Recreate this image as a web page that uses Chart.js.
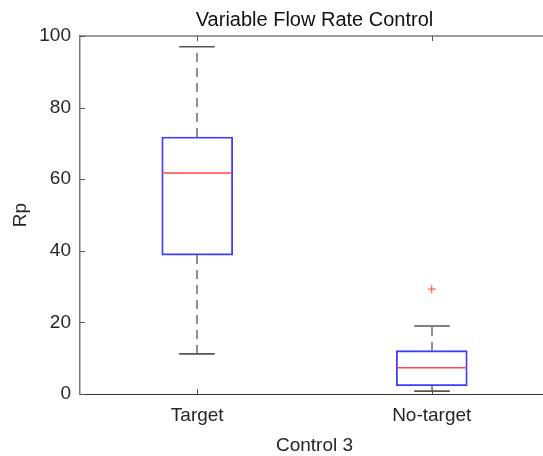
<!DOCTYPE html>
<html lang="en">
<head>
    <meta charset="UTF-8">
    <title>Variable Flow Rate Control</title>
    <script src="https://cdn.jsdelivr.net/npm/chart.js"></script>
    <style>
        html, body { margin: 0; padding: 0; background: #fff; overflow: hidden; }
        #wrap { position: absolute; left: 0; top: 0; width: 600px; height: 456px; }
    </style>
</head>
<body>

<div id="wrap">
    <canvas id="boxChart" width="600" height="456"></canvas>
</div>

<script>
  // box plot values
  var categories = ['Target', 'No-target'];
  var whiskerLow = [11.2, 0.8];
  var q1 = [38.8, 2.3];
  var medians = [61.7, 7.3];
  var q3 = [71.8, 12.1];
  var whiskerHigh = [97.0, 19.0];
  var outlierCat = ['No-target'];
  var outlierVal = [29.3];
  var yTicks = [0, 20, 40, 60, 80, 100];
  var chartTitle = 'Variable Flow Rate Control';

  var font = "'Liberation Sans', Arial, Helvetica, sans-serif";
  var axisCol = '#262626';

  // whiskers, caps, inward MATLAB style ticks and the title centred on the axes
  var boxExtras = {
    id: 'boxExtras',
    afterDatasetsDraw: function(chart) {
      var ctx = chart.ctx;
      var ys = chart.scales.y;
      var xs = chart.scales.x;
      var area = chart.chartArea;
      var boxes = chart.getDatasetMeta(0).data;
      ctx.save();
      boxes.forEach(function(bar, i) {
        var cx = Math.round(bar.x);
        var capHalf = bar.width / 4;
        ctx.strokeStyle = '#555';
        ctx.lineWidth = 1.3;
        ctx.setLineDash([9, 6]);
        ctx.beginPath();
        ctx.moveTo(cx, ys.getPixelForValue(q3[i]));
        ctx.lineTo(cx, ys.getPixelForValue(whiskerHigh[i]));
        ctx.moveTo(cx, ys.getPixelForValue(q1[i]));
        ctx.lineTo(cx, ys.getPixelForValue(whiskerLow[i]));
        ctx.stroke();
        ctx.setLineDash([]);
        ctx.lineWidth = 1.6;
        ctx.strokeStyle = '#555';
        ctx.beginPath();
        [whiskerHigh[i], whiskerLow[i]].forEach(function(v) {
          var y = ys.getPixelForValue(v);
          ctx.moveTo(cx - capHalf, y);
          ctx.lineTo(cx + capHalf, y);
        });
        ctx.stroke();
      });

      // top border
      ctx.strokeStyle = '#7a7a7a';
      ctx.lineWidth = 1.5;
      ctx.beginPath();
      ctx.moveTo(area.left, area.top);
      ctx.lineTo(area.right, area.top);
      ctx.stroke();

      // inward ticks
      ctx.strokeStyle = '#555';
      ctx.lineWidth = 1;
      ctx.beginPath();
      yTicks.forEach(function(v) {
        var y = Math.round(ys.getPixelForValue(v)) + 0.5;
        ctx.moveTo(area.left, y);
        ctx.lineTo(area.left + 5, y);
      });
      categories.forEach(function(c, i) {
        var x = Math.round(xs.getPixelForValue(i + 1)) + 0.5;
        ctx.moveTo(x, area.bottom);
        ctx.lineTo(x, area.bottom - 5);
        ctx.moveTo(x, area.top);
        ctx.lineTo(x, area.top + 5);
      });
      ctx.stroke();

      // title (MATLAB centres it over the axes, not the figure)
      ctx.fillStyle = '#111';
      ctx.font = '20px ' + font;
      ctx.textAlign = 'center';
      ctx.textBaseline = 'alphabetic';
      ctx.fillText(chartTitle, (area.left + area.right) / 2, 26);
      ctx.restore();
    }
  };

  var ctx = document.getElementById('boxChart').getContext('2d');
  var boxChart = new Chart(ctx, {
    type: 'bar',
    data: {
      datasets: [{
        label: 'Box',
        data: q1.map(function(v, i) { return { x: i + 1, y: [v, q3[i]] }; }),
        backgroundColor: 'rgba(255,255,255,0)',
        borderColor: 'rgb(60,60,255)',
        borderWidth: 1.2,
        borderSkipped: false,
        barThickness: 71,
        order: 2
      }, {
        type: 'scatter',
        label: 'Median',
        data: medians.map(function(v, i) { return { x: i + 1, y: v }; }),
        pointStyle: 'line',
        pointRadius: 35,
        borderColor: 'rgb(255,70,70)',
        borderWidth: 1.5,
        order: 1
      }, {
        type: 'scatter',
        label: 'Outliers',
        data: outlierVal.map(function(v, i) {
          return { x: categories.indexOf(outlierCat[i]) + 1, y: v };
        }),
        pointStyle: 'cross',
        pointRadius: 4,
        borderColor: 'rgb(255,60,60)',
        borderWidth: 1,
        order: 0
      }]
    },
    options: {
      responsive: false,
      animation: false,
      layout: { autoPadding: false, padding: { top: 36, right: 51, bottom: 0, left: 0 } },
      plugins: {
        legend: { display: false },
        tooltip: { enabled: false }
      },
      scales: {
        x: {
          type: 'linear',
          offset: false,
          bounds: 'data',
          min: 0.5,
          max: 2.5,
          afterBuildTicks: function(scale) {
            scale.ticks = categories.map(function(c, i) { return { value: i + 1 }; });
          },
          grid: { display: false, drawTicks: false },
          border: { display: true, color: '#333', width: 1 },
          ticks: {
            color: axisCol,
            padding: 10,
            font: { family: font, size: 19 },
            callback: function(v) { return categories[v - 1]; }
          },
          title: {
            display: true,
            text: 'Control 3',
            color: '#262626',
            font: { family: font, size: 19, lineHeight: 1 },
            padding: { top: 0, bottom: 0.5 }
          },
          afterFit: function(scale) {
            scale.height = 62;
            scale.paddingLeft = 0;
            scale.paddingRight = 0;
          }
        },
        y: {
          min: 0,
          max: 100,
          afterBuildTicks: function(scale) {
            scale.ticks = yTicks.map(function(v) { return { value: v }; });
          },
          grid: { display: false, drawTicks: false },
          border: { display: true, color: '#7a7a7a', width: 1.5 },
          ticks: { color: axisCol, padding: 9, font: { family: font, size: 19 } },
          title: {
            display: true,
            text: 'Rp',
            color: '#262626',
            font: { family: font, size: 19 },
            padding: { top: 9, bottom: 0 }
          },
          afterFit: function(scale) { scale.width = 80; }
        }
      }
    },
    plugins: [boxExtras]
  });
</script>

</body>
</html>
